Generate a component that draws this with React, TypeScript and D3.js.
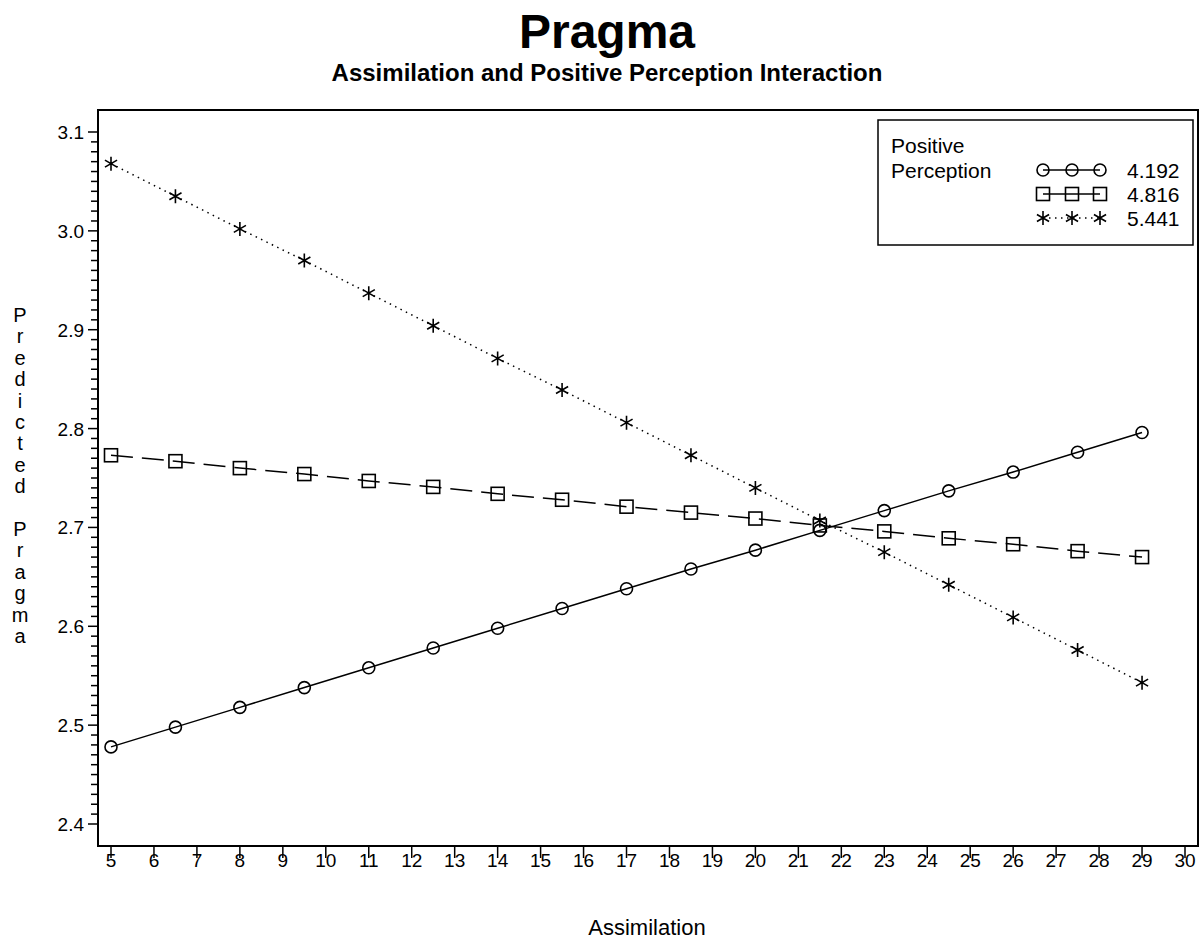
import React from "react";
import * as d3 from "d3";

// Assimilation values at which the model was evaluated
const assimilation = [5, 6.5, 8, 9.5, 11, 12.5, 14, 15.5, 17, 18.5, 20, 21.5, 23, 24.5, 26, 27.5, 29];

// Predicted Pragma at three levels of Positive Perception
const lowPerception = [2.478, 2.498, 2.518, 2.538, 2.558, 2.578, 2.598, 2.618, 2.638, 2.658, 2.677, 2.697, 2.717, 2.737, 2.756, 2.776, 2.796];
const midPerception = [2.773, 2.767, 2.760, 2.754, 2.747, 2.741, 2.734, 2.728, 2.721, 2.715, 2.709, 2.702, 2.696, 2.689, 2.683, 2.676, 2.670];
const highPerception = [3.068, 3.035, 3.002, 2.970, 2.937, 2.904, 2.871, 2.839, 2.806, 2.773, 2.740, 2.707, 2.675, 2.642, 2.609, 2.576, 2.543];

const perceptionLevels = ["4.192", "4.816", "5.441"];
const xTicks = d3.range(5, 31);
const yTicks = [2.4, 2.5, 2.6, 2.7, 2.8, 2.9, 3.0, 3.1];

const W = 1201;
const H = 940;
const left = 98, right = 1198, top = 110, bottom = 846;
const FONT = "'Liberation Sans', Arial, sans-serif";

type Symbol = "circle" | "square" | "star";

const x = d3.scaleLinear().domain([5, 30]).range([111, 1185]);
const y = d3.scaleLinear().domain([2.4, 3.1]).range([824, 132]);

function Marker({ cx, cy, kind }: { cx: number; cy: number; kind: Symbol }) {
  if (kind === "circle") {
    return <circle cx={cx} cy={cy} r={6} fill="none" stroke="#000" strokeWidth={1.6} />;
  }
  if (kind === "square") {
    return <rect x={cx - 6.5} y={cy - 6.5} width={13} height={13} fill="none" stroke="#000" strokeWidth={1.6} />;
  }
  const r = 7;
  const a = Math.cos(Math.PI / 6) * r;
  const b = Math.sin(Math.PI / 6) * r;
  const d = `M${cx},${cy - r}L${cx},${cy + r}M${cx - a},${cy - b}L${cx + a},${cy + b}M${cx - a},${cy + b}L${cx + a},${cy - b}`;
  return <path d={d} stroke="#000" strokeWidth={1.6} fill="none" />;
}

const series: { values: number[]; kind: Symbol; dash: string | undefined; label: string }[] = [
  { values: lowPerception, kind: "circle", dash: undefined, label: perceptionLevels[0] },
  { values: midPerception, kind: "square", dash: "22,9", label: perceptionLevels[1] },
  { values: highPerception, kind: "star", dash: "1.5,4.5", label: perceptionLevels[2] },
];

export default function App() {
  const line = d3
    .line<[number, number]>()
    .x((d) => x(d[0]))
    .y((d) => y(d[1]));

  const minorTicks = d3.range(240, 311).map((v) => v / 100);
  const yLabel = "Predicted Pragma".split("");

  return (
    <svg
      width={W}
      height={H}
      style={{ position: "absolute", left: 0, top: 0, background: "#fff" }}
      fontFamily={FONT}
    >
      <rect x={0} y={0} width={W} height={H} fill="#fff" />
      <text x={607} y={48} textAnchor="middle" fontSize={48} fontWeight="bold">Pragma</text>
      <text x={607} y={81} textAnchor="middle" fontSize={24} fontWeight="bold">
        Assimilation and Positive Perception Interaction
      </text>

      {/* frame */}
      <rect x={left} y={top} width={right - left} height={bottom - top} fill="none" stroke="#000" strokeWidth={2} />

      {/* y axis ticks */}
      {minorTicks.map((v) => {
        const major = Math.abs(v * 10 - Math.round(v * 10)) < 1e-6;
        return (
          <line key={v} x1={major ? left - 10 : left - 7} x2={left} y1={y(v)} y2={y(v)} stroke="#000" strokeWidth={1.5} />
        );
      })}
      {yTicks.map((v) => (
        <text key={v} x={84} y={y(v) + 7} textAnchor="end" fontSize={19}>
          {v.toFixed(1)}
        </text>
      ))}

      {/* x axis ticks */}
      {xTicks.map((v) => (
        <g key={v}>
          <line x1={x(v)} x2={x(v)} y1={bottom} y2={bottom + 12} stroke="#000" strokeWidth={1.5} />
          <text x={x(v)} y={867} textAnchor="middle" fontSize={19}>{v}</text>
        </g>
      ))}

      <text x={647} y={935} textAnchor="middle" fontSize={22}>Assimilation</text>

      {yLabel.map((ch, i) =>
        ch === " " ? null : (
          <text key={i} x={20} y={322 + i * 21.4} textAnchor="middle" fontSize={20}>
            {ch}
          </text>
        )
      )}

      {/* series */}
      {series.map((s, si) => {
        const pts = assimilation.map((a, i) => [a, s.values[i]] as [number, number]);
        return (
          <g key={si}>
            <path d={line(pts) || ""} fill="none" stroke="#000" strokeWidth={1.5} strokeDasharray={s.dash} />
            {pts.map((p, i) => (
              <Marker key={i} cx={x(p[0])} cy={y(p[1])} kind={s.kind} />
            ))}
          </g>
        );
      })}

      {/* legend */}
      <rect x={878} y={120} width={315} height={125} fill="#fff" stroke="#000" strokeWidth={1.5} />
      <text x={891} y={153} fontSize={21}>Positive</text>
      <text x={891} y={178} fontSize={21}>Perception</text>
      {series.map((s, i) => {
        const ly = 170 + i * 24;
        return (
          <g key={i}>
            <line x1={1043} x2={1100} y1={ly} y2={ly} stroke="#000" strokeWidth={1.5} strokeDasharray={s.kind === "star" ? "1.5,4.5" : undefined} />
            {[1043, 1072, 1100].map((lx) => (
              <Marker key={lx} cx={lx} cy={ly} kind={s.kind} />
            ))}
            <text x={1127} y={ly + 8} fontSize={21}>{s.label}</text>
          </g>
        );
      })}
    </svg>
  );
}
